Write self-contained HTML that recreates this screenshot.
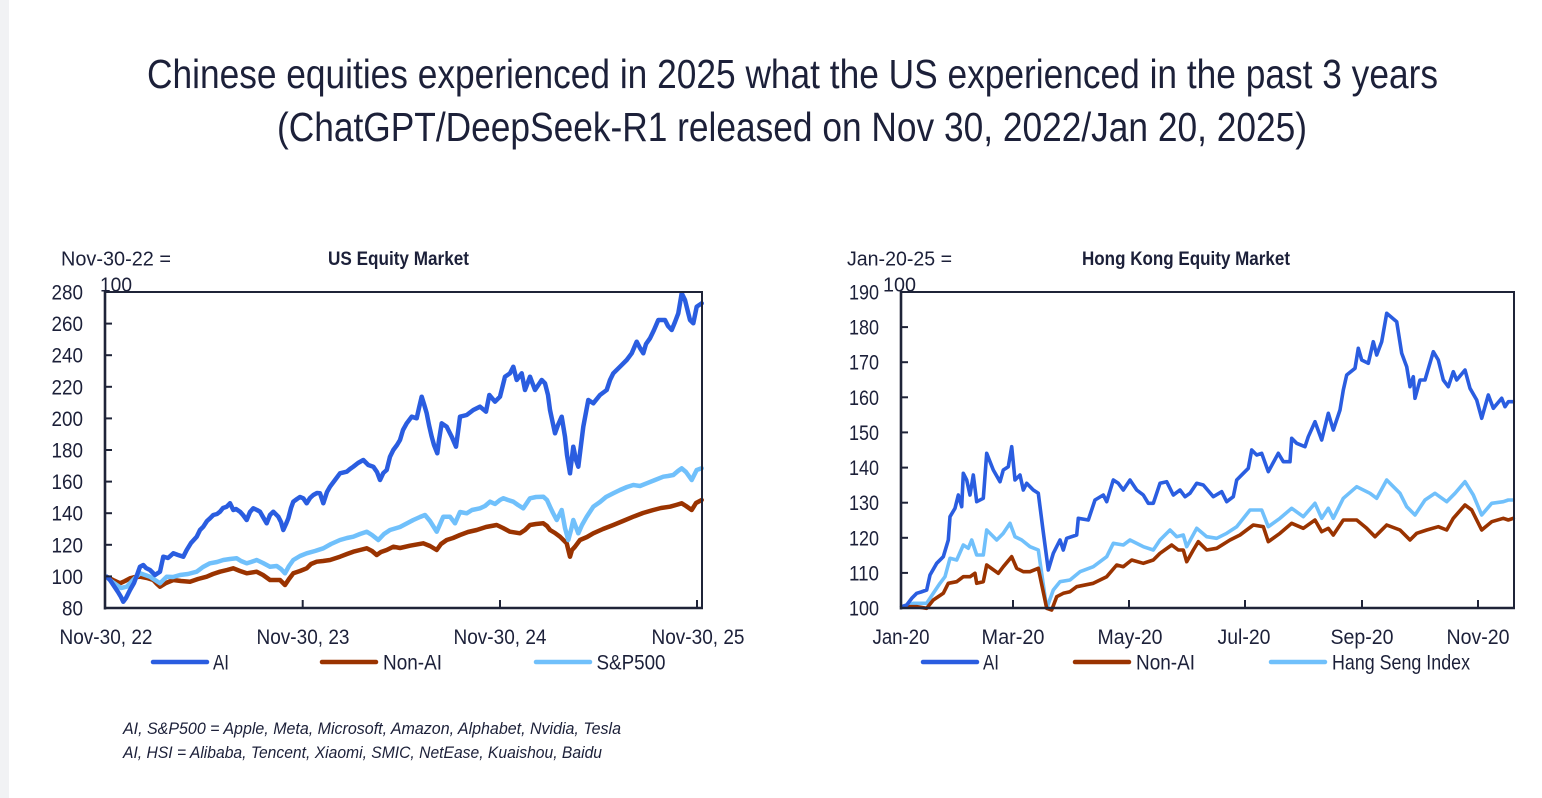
<!DOCTYPE html>
<html>
<head>
<meta charset="utf-8">
<style>
html,body{margin:0;padding:0;background:#fff;}
svg{display:block;}
text{font-family:"Liberation Sans",Arial,sans-serif;fill:#1c2039;}
</style>
</head>
<body>
<svg width="1542" height="798" viewBox="0 0 1542 798" xmlns="http://www.w3.org/2000/svg">
<rect x="0" y="0" width="1542" height="798" fill="#ffffff"/>
<rect x="0" y="0" width="9" height="798" fill="#f1f2f4"/>

<!-- Title -->
<text x="147" y="88" font-size="41" textLength="1291" lengthAdjust="spacingAndGlyphs">Chinese equities experienced in 2025 what the US experienced in the past 3 years</text>
<text x="277" y="141" font-size="41" textLength="1030" lengthAdjust="spacingAndGlyphs">(ChatGPT/DeepSeek-R1 released on Nov 30, 2022/Jan 20, 2025)</text>

<!-- ============ LEFT CHART ============ -->
<text x="61" y="265.5" font-size="20" textLength="110" lengthAdjust="spacingAndGlyphs">Nov-30-22 =</text>
<text x="100" y="291.5" font-size="20" textLength="32" lengthAdjust="spacingAndGlyphs">100</text>
<text x="328" y="265" font-size="19" font-weight="bold" textLength="141" lengthAdjust="spacingAndGlyphs">US Equity Market</text>

<g font-size="21" text-anchor="end">
<text x="83" y="299.5" textLength="31.5" lengthAdjust="spacingAndGlyphs">280</text>
<text x="83" y="331.1" textLength="31.5" lengthAdjust="spacingAndGlyphs">260</text>
<text x="83" y="362.7" textLength="31.5" lengthAdjust="spacingAndGlyphs">240</text>
<text x="83" y="394.3" textLength="31.5" lengthAdjust="spacingAndGlyphs">220</text>
<text x="83" y="425.9" textLength="31.5" lengthAdjust="spacingAndGlyphs">200</text>
<text x="83" y="457.5" textLength="31.5" lengthAdjust="spacingAndGlyphs">180</text>
<text x="83" y="489.1" textLength="31.5" lengthAdjust="spacingAndGlyphs">160</text>
<text x="83" y="520.7" textLength="31.5" lengthAdjust="spacingAndGlyphs">140</text>
<text x="83" y="552.3" textLength="31.5" lengthAdjust="spacingAndGlyphs">120</text>
<text x="83" y="583.9" textLength="31.5" lengthAdjust="spacingAndGlyphs">100</text>
<text x="83" y="615.5" textLength="21" lengthAdjust="spacingAndGlyphs">80</text>
</g>
<g font-size="21" text-anchor="middle">
<text x="106" y="644" textLength="93" lengthAdjust="spacingAndGlyphs">Nov-30, 22</text>
<text x="303" y="644" textLength="93" lengthAdjust="spacingAndGlyphs">Nov-30, 23</text>
<text x="500" y="644" textLength="93" lengthAdjust="spacingAndGlyphs">Nov-30, 24</text>
<text x="698" y="644" textLength="93" lengthAdjust="spacingAndGlyphs">Nov-30, 25</text>
</g>

<g fill="none" stroke-linejoin="round" stroke-linecap="round">
<polyline stroke="#9a3300" stroke-width="4.5" points="106.7,576.7 113,580 120,583.3 125,581 130,578.3 135,577 140,576.7 147,578 153.3,580 157,584 160,586.7 166,583 173.3,580 181,581 190,581.7 198,579 206.7,576.7 213,574 220,571.7 227,570 233.3,568.3 240,571 246.7,573.3 256.7,571.7 263,575 270,580 280,580 285,585 289,579 293.3,573.3 300,571 306.7,568.3 311,564 316.7,561.7 323,561 330,560 340,556.7 347,554 353.3,551.7 360,550 366.7,548.3 372,551 376.7,555 381,552 386.7,550 393.3,546.7 400,548 410,545.7 423.3,543.3 430,546 436.7,550 441,544 446.7,540 453,538 460,535 468,532 476.7,530 486,527 496.7,525 503,528 510,531.7 520,533.3 525,530 530,525 536,524 543.3,523.3 547,526 550,530 555,533 560,536.7 566.7,543.3 570,556.7 572,550 575,546.7 580,540 587,537 593.3,533.3 603,529 613.3,525 623,521 633.3,516.7 643,513 653.3,510 661,508 670,506.7 676,505 681.7,503.3 686,506 691.7,510 696,503 701.7,500"/>
<polyline stroke="#70c0fb" stroke-width="4.5" points="106.7,576.7 111,581 116.7,585 121,588 126.7,586.7 133,580 140,573.3 145,575 150,576.7 155,580 160,583.3 166.7,576.7 173,577 180,575 188,574 196.7,571.7 203,567 210,563.3 217,562 223.3,560 230,559 236.7,558.3 241,561 246.7,563.3 251,562 256.7,560 263,563 270,566.7 276.7,566 281,569 285,573.3 289,566 293.3,560 300,556 306.7,553.3 315,551 323.3,548.3 331,544 340,540 347,538 353.3,536.7 360,534 366.7,531.7 372,535 378.3,540 384,534 390,530 400,527 413.3,520 420,517 425,515 430,521 436.7,531.7 443.3,516.7 450,516.7 455,523.3 460,512 466.7,513.3 472,510 480,508.3 485,506 490,501.7 495,504 500,500 503.3,498.3 508,500 513.3,501.7 518,505 523.3,508.3 530,498.3 536,497 543.3,496.7 547,500 550,506.7 553,513 556.7,520 561.7,510 565,528 568.3,540 571,530 573.3,520 578.3,533.3 582,525 586.7,516.7 593.3,506.7 600,502 606,497 613.3,493.3 620,490 627,487 633.3,485 640,486 646.7,483.3 655,480 663.3,476.7 668,476 673.3,475 678,471 681.7,468.3 686,472 691.7,480 696.7,470 701.7,468.3"/>
<polyline stroke="#2a5de0" stroke-width="4.5" points="106.7,576.7 110,580 114,586 118,592 121,597 123.3,601.7 126,598 130,590 134,583 137,575 140,566.7 143.3,565 146,568 150,570 155,575 158,573 160,571.7 163.3,556.7 168,558 173.3,553.3 178,555 183.3,556.7 186.7,550 191,543 196.7,536.7 200,530 203.3,526.7 207,521 210,518.3 213.3,515 217,514 220,511.7 223,508 226.7,506.7 230,503.3 233.3,510 236,509 240,511.7 243,515 246.7,520 250,512 253.3,508.3 257,510 260,511.7 263,517 266.7,523.3 270,515 273.3,511.7 278.3,516.7 281,522 283.3,530 286,524 288.3,518.3 291,508 293.3,501.7 297,499 300,497 303.3,498.3 306.7,503.3 310,498 313.3,495 317,493 320,493.3 323.3,503.3 327,492 330,486.7 335,480 340,473.3 346.7,471.7 350,469 353.3,466.7 358,463 363.3,460 368.3,465 373.3,466.7 377,472 380,480 383.3,473 386.7,470 390,456.7 393.3,450 397,445 400,440 403,430 406.7,423.3 411.7,416.7 416.7,418.3 419,408 421.7,396.7 424,404 426.7,413.3 429,425 431.7,436.7 434,445 437.3,453.3 439,440 441.7,423.3 446.7,426.7 451.7,436.7 456,446.7 458,432 460,416.7 466.7,415 473.3,410 480,406.7 486,411.7 489.3,395 495,401.7 500,396.7 505,376.7 510,373.3 513.3,366.7 516.7,380 521.7,373.3 525,390 530,376.7 535,390 541.7,380 545,383.3 548,395 550,410 555,433.3 558,425 561.7,416.7 565,436.7 567,455 570,473.3 573.3,446.7 576,460 578.3,466.7 581,445 583.3,426.7 588.3,400 593.3,403.3 600,395 606.7,390 610,380 613.3,373.3 620,366.7 626.7,360 631.7,353.3 636.7,341.7 640,348 643.3,353.3 646,344 650,338.3 654,330 658.3,320 665,320 668,326 671.7,330 675,322 678.3,313.3 681.7,293.3 685,300 688.3,313.3 690,320 693.3,323.3 696.7,306.7 701.7,303.3"/>
</g>

<!-- left axes -->
<g stroke="#1f2438" fill="none">
<line x1="104" y1="292" x2="702" y2="292" stroke-width="2"/>
<line x1="702" y1="291" x2="702" y2="609" stroke-width="2"/>
<line x1="105" y1="291" x2="105" y2="609.5" stroke-width="2.6"/>
<line x1="104" y1="608" x2="703" y2="608" stroke-width="2.6"/>
<g stroke-width="2">
<line x1="105" y1="323.6" x2="112" y2="323.6"/>
<line x1="105" y1="355.2" x2="112" y2="355.2"/>
<line x1="105" y1="386.8" x2="112" y2="386.8"/>
<line x1="105" y1="418.4" x2="112" y2="418.4"/>
<line x1="105" y1="450" x2="112" y2="450"/>
<line x1="105" y1="481.6" x2="112" y2="481.6"/>
<line x1="105" y1="513.2" x2="112" y2="513.2"/>
<line x1="105" y1="544.8" x2="112" y2="544.8"/>
<line x1="105" y1="576.4" x2="112" y2="576.4"/>
<line x1="302.7" y1="608" x2="302.7" y2="600"/>
<line x1="500" y1="608" x2="500" y2="600"/>
<line x1="697" y1="608" x2="697" y2="600"/>
</g>
</g>

<!-- left legend -->
<g stroke-width="4.5" stroke-linecap="round">
<line x1="153" y1="662" x2="207" y2="662" stroke="#2a5de0"/>
<line x1="322" y1="662" x2="376" y2="662" stroke="#9a3300"/>
<line x1="536" y1="662" x2="590" y2="662" stroke="#70c0fb"/>
</g>
<g font-size="21">
<text x="213" y="669.5" textLength="16" lengthAdjust="spacingAndGlyphs">AI</text>
<text x="383" y="669.5" textLength="59" lengthAdjust="spacingAndGlyphs">Non-AI</text>
<text x="596.5" y="669.5" textLength="69" lengthAdjust="spacingAndGlyphs">S&amp;P500</text>
</g>

<!-- ============ RIGHT CHART ============ -->
<text x="847" y="265.5" font-size="20" textLength="105" lengthAdjust="spacingAndGlyphs">Jan-20-25 =</text>
<text x="883" y="291.5" font-size="20" textLength="33" lengthAdjust="spacingAndGlyphs">100</text>
<text x="1082" y="265" font-size="19" font-weight="bold" textLength="208" lengthAdjust="spacingAndGlyphs">Hong Kong Equity Market</text>

<g font-size="21" text-anchor="end">
<text x="879" y="299.5" textLength="30" lengthAdjust="spacingAndGlyphs">190</text>
<text x="879" y="334.6" textLength="30" lengthAdjust="spacingAndGlyphs">180</text>
<text x="879" y="369.7" textLength="30" lengthAdjust="spacingAndGlyphs">170</text>
<text x="879" y="404.8" textLength="30" lengthAdjust="spacingAndGlyphs">160</text>
<text x="879" y="439.9" textLength="30" lengthAdjust="spacingAndGlyphs">150</text>
<text x="879" y="475.1" textLength="30" lengthAdjust="spacingAndGlyphs">140</text>
<text x="879" y="510.2" textLength="30" lengthAdjust="spacingAndGlyphs">130</text>
<text x="879" y="545.3" textLength="30" lengthAdjust="spacingAndGlyphs">120</text>
<text x="879" y="580.4" textLength="30" lengthAdjust="spacingAndGlyphs">110</text>
<text x="879" y="615.5" textLength="30" lengthAdjust="spacingAndGlyphs">100</text>
</g>
<g font-size="21" text-anchor="middle">
<text x="901" y="644" textLength="57" lengthAdjust="spacingAndGlyphs">Jan-20</text>
<text x="1013" y="644" textLength="63" lengthAdjust="spacingAndGlyphs">Mar-20</text>
<text x="1130" y="644" textLength="65" lengthAdjust="spacingAndGlyphs">May-20</text>
<text x="1244" y="644" textLength="53" lengthAdjust="spacingAndGlyphs">Jul-20</text>
<text x="1362" y="644" textLength="63" lengthAdjust="spacingAndGlyphs">Sep-20</text>
<text x="1478" y="644" textLength="63" lengthAdjust="spacingAndGlyphs">Nov-20</text>
</g>

<g fill="none" stroke-linejoin="round" stroke-linecap="round" stroke-width="3.6">
<polyline stroke="#70c0fb" points="901.7,606.7 913.3,603.3 926.7,603.3 933.3,593.3 940,583.3 945,576.7 950,558.3 956.7,560 963.3,545 968.3,548.3 971.7,540 976.7,555 983.3,555 986.7,530 996.7,540 1003.3,533.3 1010,523.3 1015,536.7 1021.7,540 1030,546.7 1038.3,550 1046.7,608.3 1053.3,590 1060,581.7 1070,580 1080,571.7 1093.3,566.7 1106.7,556.7 1113.3,543.3 1123.3,545 1130,540 1143.3,546.7 1153.3,550 1160,540 1170,530 1176.7,536.7 1183.3,535 1186.7,546.7 1196.7,528.3 1206.7,536.7 1216.7,538.3 1226.7,533.3 1236.7,526.7 1250,510 1261.7,510 1268.3,526.7 1280,518.3 1291.7,508.3 1303.3,516.7 1315,503.3 1321.7,518.3 1328.3,508.3 1333.3,518.3 1343.3,498.3 1356.7,486.7 1370,493.3 1376.7,498.3 1386.7,480 1400,493.3 1406.7,506.7 1415,515 1425,500 1435,493.3 1446.7,501.7 1455,493.3 1465,481.7 1473.3,495 1481.7,515 1491.7,503.3 1503.3,501.7 1508.3,500 1513.3,500"/>
<polyline stroke="#9a3300" points="901.7,606.7 916.7,606.7 926.7,608.3 933.3,600 943.3,593.3 948.3,583.3 956.7,581.7 963.3,576.7 970,576.7 975,573.3 976.7,583.3 983.3,581.7 986.7,565 998.3,573.3 1003.3,566.7 1011.7,556.7 1016.7,568.3 1023.3,571.7 1030,571.7 1038.3,568.3 1046.7,608.3 1051.7,610 1056.7,596.7 1063.3,593.3 1070,591.7 1076.7,586.7 1093.3,583.3 1106.7,576.7 1116.7,565 1123.3,566.7 1131.7,560 1143.3,563.3 1153.3,560 1160,553.3 1171.7,545 1178.3,550 1183.3,550 1186.7,561.7 1193.3,550 1198.3,541.7 1206.7,550 1216.7,548.3 1230,540 1240,535 1253.3,525 1263.3,526.7 1268.3,541.7 1280,533.3 1291.7,523.3 1303.3,528.3 1315,520 1321.7,531.7 1328.3,528.3 1333.3,535 1343.3,520 1356.7,520 1366.7,528.3 1375,536.7 1386.7,525 1400,530 1410,540 1416.7,533.3 1426.7,530 1438.3,526.7 1446.7,530 1453.3,518.3 1465,505 1471.7,510 1476.7,520 1481.7,530 1491.7,521.7 1503.3,518.3 1508.3,520 1513.3,518.3"/>
<polyline stroke="#2a5de0" points="901.7,606.7 906.7,605 912,598 916.7,593.3 921,592 926.7,590 930,575 936.7,563.3 943.3,556.7 948.3,540 950,516.7 955,508.3 958.3,495 961.7,506.7 963.3,473.3 966.7,480 970,495 973.3,475 976.7,501.7 983.3,498.3 986.7,453.3 993.3,470 1000,481.7 1003.3,470 1008.3,466.7 1011.7,446.7 1015,480 1020,475 1023.3,490 1026.7,483.3 1033.3,490 1038.3,493.3 1043,530 1048.3,570 1053.3,553.3 1060,540 1063.3,550 1066.7,538.3 1076.7,535 1078.3,518.3 1088.3,520 1095,500 1103.3,495 1106.7,501.7 1113.3,480 1118.3,483.3 1123.3,490 1130,480 1136.7,490 1143.3,495 1148.3,503.3 1153.3,503.3 1160,483.3 1166.7,481.7 1173.3,495 1180,490 1185,496.7 1190,493.3 1196.7,483.3 1203.3,485 1213.3,496.7 1221.7,491.7 1226.7,501.7 1233.3,496.7 1236.7,480 1243.3,473.3 1248.3,468.3 1251.7,450 1256.7,455 1261.7,453.3 1268.3,471.7 1278.3,453.3 1283.3,461.7 1290,461.7 1291.7,438.3 1296.7,443.3 1305,446.7 1308.3,436.7 1315,421.7 1321.7,440 1328.3,413.3 1333.3,430 1340,410 1343.3,390 1346.7,375 1355,368.3 1358.3,348.3 1361.7,360 1368.3,363.3 1373.3,341.7 1376.7,355 1381.7,341.7 1386.7,313.3 1396.7,321.7 1401.7,353.3 1406.7,366.7 1410,386.7 1413.3,376.7 1415,398.3 1420,380 1425,380 1433.3,351.7 1438.3,360 1443.3,380 1448.3,386.7 1453.3,371.7 1456.7,380 1465,370 1470,388.3 1476.7,400 1481.7,418.3 1488.3,395 1493.3,408.3 1501.7,398.3 1505,406.7 1508.3,401.7 1513.3,401.7"/>
</g>

<!-- right axes -->
<g stroke="#1f2438" fill="none">
<line x1="900" y1="292" x2="1514" y2="292" stroke-width="2"/>
<line x1="1514" y1="291" x2="1514" y2="609" stroke-width="2"/>
<line x1="901" y1="291" x2="901" y2="609.5" stroke-width="2.6"/>
<line x1="900" y1="608" x2="1515" y2="608" stroke-width="2.6"/>
<g stroke-width="2">
<line x1="901" y1="327.1" x2="908" y2="327.1"/>
<line x1="901" y1="362.2" x2="908" y2="362.2"/>
<line x1="901" y1="397.3" x2="908" y2="397.3"/>
<line x1="901" y1="432.4" x2="908" y2="432.4"/>
<line x1="901" y1="467.6" x2="908" y2="467.6"/>
<line x1="901" y1="502.7" x2="908" y2="502.7"/>
<line x1="901" y1="537.8" x2="908" y2="537.8"/>
<line x1="901" y1="572.9" x2="908" y2="572.9"/>
<line x1="1013" y1="608" x2="1013" y2="600"/>
<line x1="1129" y1="608" x2="1129" y2="600"/>
<line x1="1245" y1="608" x2="1245" y2="600"/>
<line x1="1362" y1="608" x2="1362" y2="600"/>
<line x1="1478" y1="608" x2="1478" y2="600"/>
</g>
</g>

<!-- right legend -->
<g stroke-width="4.5" stroke-linecap="round">
<line x1="923" y1="662" x2="977" y2="662" stroke="#2a5de0"/>
<line x1="1075" y1="662" x2="1129" y2="662" stroke="#9a3300"/>
<line x1="1271" y1="662" x2="1325" y2="662" stroke="#70c0fb"/>
</g>
<g font-size="21">
<text x="983" y="669.5" textLength="16" lengthAdjust="spacingAndGlyphs">AI</text>
<text x="1136" y="669.5" textLength="59" lengthAdjust="spacingAndGlyphs">Non-AI</text>
<text x="1332" y="669.5" textLength="138" lengthAdjust="spacingAndGlyphs">Hang Seng Index</text>
</g>

<!-- footnote -->
<g font-size="17" font-style="italic">
<text x="123" y="734" textLength="498" lengthAdjust="spacingAndGlyphs">AI, S&amp;P500 = Apple, Meta, Microsoft, Amazon, Alphabet, Nvidia, Tesla</text>
<text x="123" y="758" textLength="479" lengthAdjust="spacingAndGlyphs">AI, HSI = Alibaba, Tencent, Xiaomi, SMIC, NetEase, Kuaishou, Baidu</text>
</g>
</svg>
</body>
</html>
